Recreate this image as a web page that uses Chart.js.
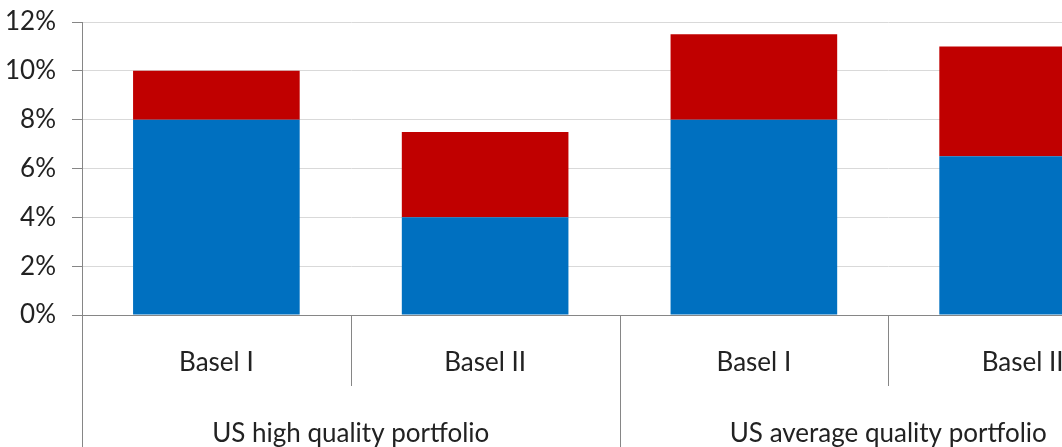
<!DOCTYPE html>
<html>
<head>
<meta charset="utf-8">
<script src="https://cdn.jsdelivr.net/npm/chart.js@4/dist/chart.umd.min.js"></script>
<style>
  html, body { margin: 0; padding: 0; background: #fff; overflow: hidden; }
  #wrap { width: 1160px; height: 447px; }
</style>
</head>
<body>
<div id="wrap"><canvas id="grafico"></canvas></div>
<script>
// --- Datos ---
const categorias = ["Basel I", "Basel II", "Basel I", "Basel II"];
const grupos = ["US high quality portfolio", "US average quality portfolio"];
const capitalBase = [8, 4, 8, 6.5];
const capitalExtra = [2, 3.5, 3.5, 4.5];
const ticksY = [0, 2, 4, 6, 8, 10, 12];

const FUENTE = "Lato, 'Open Sans', sans-serif";
const GRIS_EJE = "#868686";

// --- Separadores y etiquetas de grupo bajo el eje X ---
const ejeAgrupado = {
  id: "ejeAgrupado",
  afterDraw(chart) {
    const x = chart.scales.x;
    const ctx = chart.ctx;
    const n = categorias.length;
    const ancho = (x.right - x.left) / n;
    const yBase = x.top;
    const fondo = chart.height;
    const porGrupo = n / grupos.length;

    ctx.save();
    ctx.strokeStyle = GRIS_EJE;
    ctx.lineWidth = 1;
    for (let i = 0; i <= n; i++) {
      const px = Math.round(x.left + i * ancho) + 0.5;
      const largo = (i % porGrupo === 0) ? fondo : yBase + 71;
      ctx.beginPath();
      ctx.moveTo(px, yBase);
      ctx.lineTo(px, largo);
      ctx.stroke();
    }

    ctx.fillStyle = "#222";
    ctx.font = "26px " + FUENTE;
    ctx.textAlign = "center";
    ctx.textBaseline = "alphabetic";
    grupos.forEach((g, j) => {
      const cx = x.left + (j + 0.5) * porGrupo * ancho;
      ctx.fillText(g, cx, 442);
    });
    ctx.restore();
  }
};

const ctx = document.getElementById("grafico").getContext("2d");
new Chart(ctx, {
  type: "bar",
  data: {
    labels: categorias,
    datasets: [
      { label: "Base", data: capitalBase, backgroundColor: "#0070C0" },
      { label: "Extra", data: capitalExtra, backgroundColor: "#C00000" }
    ]
  },
  options: {
    responsive: true,
    maintainAspectRatio: false,
    animation: false,
    layout: { padding: { top: 22, right: 3, left: 0, bottom: 0 } },
    datasets: { bar: { categoryPercentage: 1, barPercentage: 0.62 } },
    plugins: { legend: { display: false }, tooltip: { enabled: false } },
    scales: {
      x: {
        stacked: true,
        grid: { display: false, drawOnChartArea: false, drawTicks: false },
        border: { display: true, color: GRIS_EJE },
        ticks: {
          color: "#222",
          font: { family: FUENTE, size: 26 },
          padding: 32,
          maxRotation: 0
        },
        afterFit(scale) {
          scale.height = 132;
          scale.paddingLeft = 0;
          scale.paddingRight = 0;
        }
      },
      y: {
        stacked: true,
        min: 0,
        max: 12,
        afterBuildTicks(scale) { scale.ticks = ticksY.map(v => ({ value: v })); },
        grid: {
          color: "#d9d9d9",
          tickColor: GRIS_EJE,
          tickLength: 10
        },
        border: { display: true, color: GRIS_EJE },
        ticks: {
          color: "#222",
          font: { family: FUENTE, size: 26 },
          padding: 16,
          callback: v => v + "%"
        },
        afterFit(scale) {
          scale.width = 82;
          scale.paddingTop = 0;
          scale.paddingBottom = 0;
        }
      }
    }
  },
  plugins: [ejeAgrupado]
});
</script>
</body>
</html>
